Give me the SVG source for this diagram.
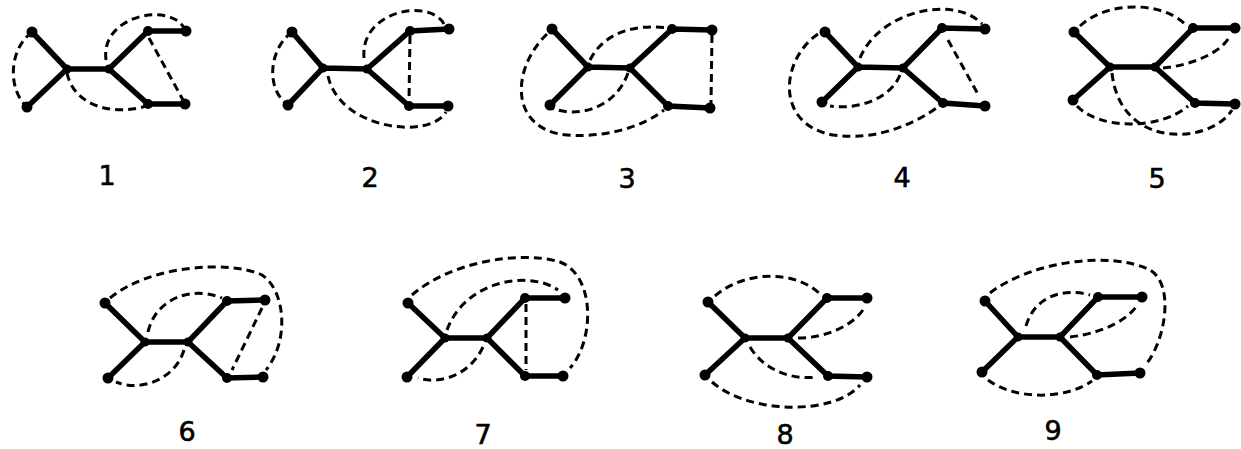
<svg xmlns="http://www.w3.org/2000/svg" width="1241" height="449" viewBox="0 0 1241 449">
<style>
.t{stroke:#000;stroke-width:5.5;stroke-linecap:round;fill:none}
.d{stroke:#000;stroke-width:3;stroke-dasharray:8 5;fill:none;stroke-linecap:butt}
.n{fill:#000}
.lbl{font-family:"DejaVu Sans","Liberation Sans",sans-serif;font-size:27px;fill:#000;stroke:#000;stroke-width:0.6;text-anchor:middle}
</style>
<rect width="1241" height="449" fill="#fff"/>
<g id="connectors">
<path class="t" d="M32,32L67,69L27,107M67,69L109,69L148,31L186,31M109,69L148,104L185,104"/>
<path class="d" d="M32,32C8,50 8,90 27,107"/>
<path class="d" d="M106,60C100,15 170,2 184,28"/>
<path class="d" d="M149,38L183,100"/>
<path class="d" d="M67,73C75,110 120,115 146,106"/>
<path class="t" d="M292,32L323,68L288,105M323,68L367,69L410,31L449,29M367,69L409,106L448,106"/>
<path class="d" d="M292,32C268,50 266,90 288,105"/>
<path class="d" d="M364,58C360,10 430,-2 444,24"/>
<path class="d" d="M410,36L409,101"/>
<path class="d" d="M328,76C340,130 430,140 446,112"/>
<path class="t" d="M552,29L588,67L550,105M588,67L630,68L672,29L712,30M630,68L668,106L710,108"/>
<path class="d" d="M712,35L711,103"/>
<path class="d" d="M590,60C605,30 640,24 668,28"/>
<path class="d" d="M628,73C615,110 575,118 552,108"/>
<path class="d" d="M547,34C510,70 510,130 567,135C610,138 645,125 664,110"/>
<path class="t" d="M825,32L858,67L822,102M858,67L903,68L942,28L985,29M903,68L943,103L985,106"/>
<path class="d" d="M860,58C880,10 955,-5 982,24"/>
<path class="d" d="M948,40L979,96"/>
<path class="d" d="M900,75C890,100 855,110 830,106"/>
<path class="d" d="M818,34C780,60 775,125 833,135C880,142 920,120 938,107"/>
<path class="t" d="M1074,32L1110,67L1073,100M1110,67L1155,67L1193,28L1235,28M1155,67L1195,103L1235,104"/>
<path class="d" d="M1080,26C1105,2 1160,0 1185,24"/>
<path class="d" d="M1163,68C1195,65 1225,50 1230,35"/>
<path class="d" d="M1077,106C1100,130 1160,130 1188,106"/>
<path class="d" d="M1112,73C1120,150 1210,145 1232,110"/>
<path class="t" d="M105,303L145,342L108,378M145,342L188,342L227,301L265,300M188,342L227,378L263,377"/>
<path class="d" d="M110,298C150,265 230,260 262,275C285,290 290,340 266,370"/>
<path class="d" d="M148,332C155,300 190,285 222,298"/>
<path class="d" d="M262,308L232,370"/>
<path class="d" d="M184,350C175,380 140,392 116,382"/>
<path class="t" d="M408,303L445,338L407,377M445,338L487,338L525,298L565,298M487,338L525,376L563,376"/>
<path class="d" d="M412,295C450,262 520,250 560,262C595,275 595,340 570,368"/>
<path class="d" d="M447,330C465,280 530,270 558,290"/>
<path class="d" d="M526,304L526,370"/>
<path class="d" d="M483,347C470,375 440,385 418,378"/>
<path class="t" d="M708,302L745,338L705,375M745,338L788,338L827,298L867,298M788,338L828,376L867,377"/>
<path class="d" d="M715,296C745,270 795,270 820,294"/>
<path class="d" d="M798,338C830,338 858,322 865,306"/>
<path class="d" d="M750,347C765,372 795,380 816,377"/>
<path class="d" d="M712,382C750,415 835,415 860,385"/>
<path class="t" d="M985,301L1018,337L982,372M1018,337L1060,337L1098,297L1142,297M1060,337L1097,375L1140,373"/>
<path class="d" d="M990,293C1030,262 1110,250 1150,270C1175,285 1165,340 1147,363"/>
<path class="d" d="M1026,326C1035,295 1065,288 1090,295"/>
<path class="d" d="M1070,337C1105,333 1130,318 1138,304"/>
<path class="d" d="M988,380C1015,400 1065,400 1092,381"/>
</g>
<g id="graph1">
<g id="g1a"><circle class="n" cx="32" cy="32" r="5.5"/></g>
<g id="g1b"><circle class="n" cx="27" cy="107" r="5.5"/></g>
<g id="g1c"><circle class="n" cx="67" cy="69" r="4.5"/></g>
<g id="g1d"><circle class="n" cx="109" cy="69" r="4.5"/></g>
<g id="g1e"><circle class="n" cx="148" cy="31" r="5"/></g>
<g id="g1f"><circle class="n" cx="186" cy="31" r="5.5"/></g>
<g id="g1g"><circle class="n" cx="148" cy="104" r="5"/></g>
<g id="g1h"><circle class="n" cx="185" cy="104" r="5.5"/></g>
<text class="lbl" x="107" y="185">1</text>
</g>
<g id="graph2">
<g id="g2a"><circle class="n" cx="292" cy="32" r="5.5"/></g>
<g id="g2b"><circle class="n" cx="288" cy="105" r="5.5"/></g>
<g id="g2c"><circle class="n" cx="323" cy="68" r="4.5"/></g>
<g id="g2d"><circle class="n" cx="367" cy="69" r="4.5"/></g>
<g id="g2e"><circle class="n" cx="410" cy="31" r="5"/></g>
<g id="g2f"><circle class="n" cx="449" cy="29" r="5.5"/></g>
<g id="g2g"><circle class="n" cx="409" cy="106" r="5"/></g>
<g id="g2h"><circle class="n" cx="448" cy="106" r="5.5"/></g>
<text class="lbl" x="370" y="187">2</text>
</g>
<g id="graph3">
<g id="g3a"><circle class="n" cx="552" cy="29" r="5.5"/></g>
<g id="g3b"><circle class="n" cx="550" cy="105" r="5.5"/></g>
<g id="g3c"><circle class="n" cx="588" cy="67" r="4.5"/></g>
<g id="g3d"><circle class="n" cx="630" cy="68" r="4.5"/></g>
<g id="g3e"><circle class="n" cx="672" cy="29" r="5"/></g>
<g id="g3f"><circle class="n" cx="712" cy="30" r="5.5"/></g>
<g id="g3g"><circle class="n" cx="668" cy="106" r="5"/></g>
<g id="g3h"><circle class="n" cx="710" cy="108" r="5.5"/></g>
<text class="lbl" x="627" y="188">3</text>
</g>
<g id="graph4">
<g id="g4a"><circle class="n" cx="825" cy="32" r="5.5"/></g>
<g id="g4b"><circle class="n" cx="822" cy="102" r="5.5"/></g>
<g id="g4c"><circle class="n" cx="858" cy="67" r="4.5"/></g>
<g id="g4d"><circle class="n" cx="903" cy="68" r="4.5"/></g>
<g id="g4e"><circle class="n" cx="942" cy="28" r="5"/></g>
<g id="g4f"><circle class="n" cx="985" cy="29" r="5.5"/></g>
<g id="g4g"><circle class="n" cx="943" cy="103" r="5"/></g>
<g id="g4h"><circle class="n" cx="985" cy="106" r="5.5"/></g>
<text class="lbl" x="902" y="187">4</text>
</g>
<g id="graph5">
<g id="g5a"><circle class="n" cx="1074" cy="32" r="5.5"/></g>
<g id="g5b"><circle class="n" cx="1073" cy="100" r="5.5"/></g>
<g id="g5c"><circle class="n" cx="1110" cy="67" r="4.5"/></g>
<g id="g5d"><circle class="n" cx="1155" cy="67" r="4.5"/></g>
<g id="g5e"><circle class="n" cx="1193" cy="28" r="5"/></g>
<g id="g5f"><circle class="n" cx="1235" cy="28" r="5.5"/></g>
<g id="g5g"><circle class="n" cx="1195" cy="103" r="5"/></g>
<g id="g5h"><circle class="n" cx="1235" cy="104" r="5.5"/></g>
<text class="lbl" x="1157" y="188">5</text>
</g>
<g id="graph6">
<g id="g6a"><circle class="n" cx="105" cy="303" r="5.5"/></g>
<g id="g6b"><circle class="n" cx="108" cy="378" r="5.5"/></g>
<g id="g6c"><circle class="n" cx="145" cy="342" r="4.5"/></g>
<g id="g6d"><circle class="n" cx="188" cy="342" r="4.5"/></g>
<g id="g6e"><circle class="n" cx="227" cy="301" r="5"/></g>
<g id="g6f"><circle class="n" cx="265" cy="300" r="5.5"/></g>
<g id="g6g"><circle class="n" cx="227" cy="378" r="5"/></g>
<g id="g6h"><circle class="n" cx="263" cy="377" r="5.5"/></g>
<text class="lbl" x="187" y="441">6</text>
</g>
<g id="graph7">
<g id="g7a"><circle class="n" cx="408" cy="303" r="5.5"/></g>
<g id="g7b"><circle class="n" cx="407" cy="377" r="5.5"/></g>
<g id="g7c"><circle class="n" cx="445" cy="338" r="4.5"/></g>
<g id="g7d"><circle class="n" cx="487" cy="338" r="4.5"/></g>
<g id="g7e"><circle class="n" cx="525" cy="298" r="5"/></g>
<g id="g7f"><circle class="n" cx="565" cy="298" r="5.5"/></g>
<g id="g7g"><circle class="n" cx="525" cy="376" r="5"/></g>
<g id="g7h"><circle class="n" cx="563" cy="376" r="5.5"/></g>
<text class="lbl" x="483" y="444">7</text>
</g>
<g id="graph8">
<g id="g8a"><circle class="n" cx="708" cy="302" r="5.5"/></g>
<g id="g8b"><circle class="n" cx="705" cy="375" r="5.5"/></g>
<g id="g8c"><circle class="n" cx="745" cy="338" r="4.5"/></g>
<g id="g8d"><circle class="n" cx="788" cy="338" r="4.5"/></g>
<g id="g8e"><circle class="n" cx="827" cy="298" r="5"/></g>
<g id="g8f"><circle class="n" cx="867" cy="298" r="5.5"/></g>
<g id="g8g"><circle class="n" cx="828" cy="376" r="5"/></g>
<g id="g8h"><circle class="n" cx="867" cy="377" r="5.5"/></g>
<text class="lbl" x="785" y="444">8</text>
</g>
<g id="graph9">
<g id="g9a"><circle class="n" cx="985" cy="301" r="5.5"/></g>
<g id="g9b"><circle class="n" cx="982" cy="372" r="5.5"/></g>
<g id="g9c"><circle class="n" cx="1018" cy="337" r="4.5"/></g>
<g id="g9d"><circle class="n" cx="1060" cy="337" r="4.5"/></g>
<g id="g9e"><circle class="n" cx="1098" cy="297" r="5"/></g>
<g id="g9f"><circle class="n" cx="1142" cy="297" r="5.5"/></g>
<g id="g9g"><circle class="n" cx="1097" cy="375" r="5"/></g>
<g id="g9h"><circle class="n" cx="1140" cy="373" r="5.5"/></g>
<text class="lbl" x="1053" y="440">9</text>
</g>
</svg>
